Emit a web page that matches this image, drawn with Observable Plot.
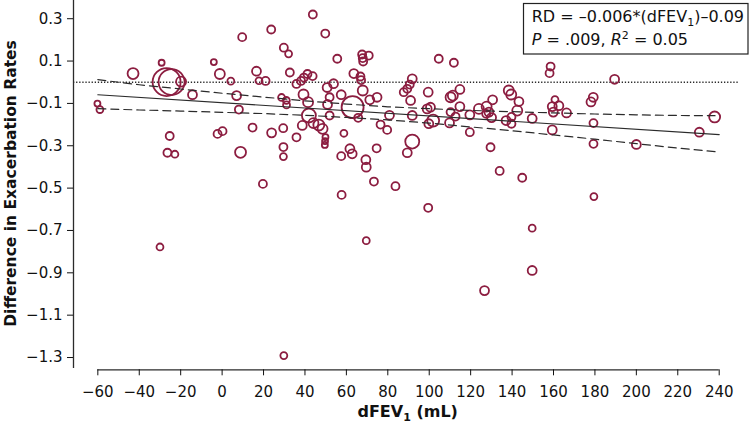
<!DOCTYPE html>
<html><head><meta charset="utf-8">
<script src="https://cdn.jsdelivr.net/npm/d3@7"></script>
<script src="https://cdn.jsdelivr.net/npm/@observablehq/plot@0.6"></script>
<style>
html,body{margin:0;padding:0;background:#fff;}
#chart{position:relative;width:751px;height:432px;}
</style></head><body><div id="chart"></div>
<script>
// Scatter values: dFEV1 (mL) vs difference in exacerbation rates
const dFEV1 = [
-60.2, -59.0, -43.0, -29.2, -26.8, -24.4, -19.8, -14.3, -4.0, -1.1,
4.2, 7.0, 8.1, 9.7, -25.3, -26.4, -22.8, -2.2, 0.2, 8.9,
14.7, -30.0, 19.7, 23.7, 43.8, 49.8, 29.8, 32.1, 16.6, 17.8,
21.0, 32.7, 35.9, 38.1, 39.5, 41.2, 43.7, 28.7, 31.0, 31.1,
39.3, 41.5, 41.9, 38.7, 44.1, 46.7, 48.5, 50.7, 53.8, 51.9,
50.9, 51.9, 49.9, 49.7, 49.6, 23.9, 29.5, 35.9, 29.6, 29.6,
29.8, 55.6, 57.5, 58.8, 57.5, 61.7, 62.8, 63.0, 57.7, 67.6,
67.9, 68.1, 70.8, 63.6, 66.8, 67.1, 67.9, 71.3, 74.8, 65.7,
76.5, 79.7, 80.8, 91.8, 90.6, 89.4, 87.7, 91.0, 91.8, 91.8,
89.4, 74.6, 69.4, 69.6, 73.3, 83.7, 99.5, 69.6, 99.5, 99.0,
100.6, 101.9, 99.8, 104.6, 111.9, 110.3, 111.4, 114.8, 114.8, 110.3,
112.7, 109.8, 119.6, 119.6, 124.0, 127.7, 128.8, 130.1, 127.5, 130.6,
129.6, 138.4, 139.6, 143.3, 142.5, 137.1, 139.7, 139.7, 149.7, 158.6,
158.1, 160.7, 159.4, 159.9, 162.6, 166.3, 159.4, 178.1, 179.2, 179.3,
179.3, 189.5, 200.0, 230.4, 237.8, 134.0, 144.9, 179.5, 149.7, 149.7,
126.7];
const rateDiff = [
-0.101, -0.129, 0.041, 0.092, 0.001, 0.001, 0.003, -0.059, 0.095, 0.039,
0.005, -0.063, -0.129, 0.213, -0.254, -0.333, -0.340, -0.244, -0.231, -0.331,
-0.214, -0.778, -0.480, 0.249, 0.320, 0.230, 0.163, 0.134, 0.052, 0.007,
0.006, 0.046, -0.008, 0.006, 0.022, 0.039, 0.029, -0.072, -0.086, -0.107,
-0.058, -0.094, -0.157, -0.204, -0.193, -0.202, -0.220, -0.025, -0.007, -0.071,
-0.105, -0.157, -0.259, -0.278, -0.296, -0.239, -0.217, -0.260, -0.306, -0.351,
-1.291, 0.111, -0.059, -0.241, -0.349, -0.314, -0.338, -0.118, -0.532, 0.131,
0.114, 0.098, 0.126, 0.041, 0.027, 0.010, -0.039, -0.083, -0.071, -0.168,
-0.200, -0.225, -0.156, 0.016, -0.011, -0.031, -0.047, -0.086, -0.157, -0.280,
-0.333, -0.312, -0.366, -0.401, -0.469, -0.491, -0.593, -0.748, -0.047, -0.126,
-0.118, -0.181, -0.196, 0.111, 0.092, -0.071, -0.063, -0.034, -0.115, -0.141,
-0.162, -0.192, -0.154, -0.236, -0.126, -0.115, -0.141, -0.167, -0.149, -0.083,
-0.307, -0.039, -0.058, -0.091, -0.134, -0.181, -0.164, -0.196, -0.171, 0.074,
0.043, -0.082, -0.115, -0.141, -0.111, -0.145, -0.225, -0.093, -0.071, -0.193,
-0.291, 0.014, -0.294, -0.236, -0.164, -0.419, -0.451, -0.540, -0.689, -0.889,
-0.984];
// study weight (bubble area)
const weight = [
9, 12, 30, 9, 196, 169, 25, 20, 9, 25,
12, 20, 16, 16, 16, 16, 12, 16, 16, 30,
16, 12, 16, 16, 16, 16, 16, 12, 20, 12,
16, 16, 16, 16, 16, 16, 16, 12, 12, 12,
25, 25, 49, 20, 25, 30, 25, 20, 20, 16,
20, 16, 9, 9, 9, 20, 16, 16, 16, 12,
12, 16, 20, 12, 16, 20, 20, 121, 16, 16,
16, 16, 16, 20, 16, 16, 25, 20, 20, 16,
16, 16, 20, 20, 16, 16, 16, 20, 20, 49,
20, 16, 20, 20, 16, 16, 16, 12, 20, 20,
20, 36, 20, 16, 16, 25, 25, 20, 20, 16,
16, 20, 20, 16, 25, 25, 20, 20, 16, 20,
16, 25, 25, 20, 25, 20, 16, 16, 20, 16,
16, 12, 20, 20, 20, 20, 20, 20, 20, 16,
16, 20, 20, 20, 30, 16, 16, 12, 12, 20,
20];
// regression line and its confidence band
const fitX = [-60, 240];
const fitY = [-0.059, -0.247];
const bandX = [-60, -40, -20, 0, 20, 40, 60, 80, 100, 120, 140, 160, 180, 200, 220, 238];
const bandUpper = [0.012, -0.012, -0.032, -0.052, -0.070, -0.088, -0.103, -0.116, -0.125, -0.133, -0.139, -0.145, -0.150, -0.154, -0.157, -0.158];
const bandLower = [-0.125, -0.131, -0.136, -0.142, -0.148, -0.156, -0.166, -0.178, -0.193, -0.211, -0.229, -0.249, -0.269, -0.290, -0.311, -0.328];
const zeroLine = [0];
const xTicks = [-60, -40, -20, 0, 20, 40, 60, 80, 100, 120, 140, 160, 180, 200, 220, 240];
const yTicks = [0.3, 0.1, -0.1, -0.3, -0.5, -0.7, -0.9, -1.1, -1.3];

const points = dFEV1.map((x, i) => ({x, y: rateDiff[i], w: weight[i]}));
const fit = fitX.map((x, i) => ({x, y: fitY[i]}));
const upper = bandX.map((x, i) => ({x, y: bandUpper[i]}));
const lower = bandX.map((x, i) => ({x, y: bandLower[i]}));

const xLo = -71.75, yLo = -1.358, yHi = 0.386;
const ink = "#2b2b2b";
const plot = Plot.plot({
  width: 751, height: 432,
  marginLeft: 73, marginRight: 32.3, marginTop: 0, marginBottom: 62.7,
  style: {fontFamily: "'DejaVu Sans', sans-serif", fontSize: "15px", color: "#111", background: "#fff", overflow: "visible"},
  x: {domain: [xLo, 240]},
  y: {domain: [yLo, yHi]},
  r: {type: "sqrt", domain: [0, 196], range: [0, 14]},
  marks: [
    Plot.ruleX([xLo], {y1: -1.352, y2: yHi, stroke: ink, strokeWidth: 1.3}),
    Plot.ruleY([yLo], {x1: xTicks[0], x2: xTicks[xTicks.length - 1], stroke: ink, strokeWidth: 1.3}),
    Plot.axisY({ticks: yTicks, tickSize: 6, tickPadding: 5, tickFormat: d3.format(".1f"), label: null}),
    Plot.axisX({ticks: xTicks, tickSize: 6, tickPadding: 10.5, tickFormat: d3.format("d"), label: null}),
    Plot.ruleY(zeroLine, {x1: xLo, x2: 249.5, stroke: ink, strokeWidth: 1.3, strokeDasharray: "1.3,1.8"}),
    Plot.dot(points, {x: "x", y: "y", r: "w", stroke: "#8c1d40", strokeWidth: 1.8, fill: "none"}),
    Plot.line(fit, {x: "x", y: "y", stroke: ink, strokeWidth: 1.2}),
    Plot.line(upper, {x: "x", y: "y", stroke: ink, strokeWidth: 1.2, strokeDasharray: "8,5"}),
    Plot.line(lower, {x: "x", y: "y", stroke: ink, strokeWidth: 1.2, strokeDasharray: "8,5"})
  ]
});
document.getElementById("chart").appendChild(plot);

const svg = d3.select(plot);
// axis titles
svg.append("text")
  .attr("transform", "translate(15.5,183.5) rotate(-90)")
  .attr("text-anchor", "middle")
  .attr("font-weight", "bold").attr("font-size", "15.5px").attr("fill", "#111")
  .text("Difference in Exacerbation Rates");
const xt = svg.append("text")
  .attr("x", 407.7).attr("y", 417.3)
  .attr("text-anchor", "middle")
  .attr("font-weight", "bold").attr("font-size", "16px").attr("fill", "#111");
xt.append("tspan").text("dFEV");
xt.append("tspan").attr("font-size", "11px").attr("dy", 4).text("1");
xt.append("tspan").attr("dy", -4).text(" (mL)");

// annotation box
const g = svg.append("g").attr("font-size", "16px").attr("fill", "#111").attr("text-anchor", "start");
g.append("rect").attr("x", 523.5).attr("y", 3.5).attr("width", 224.5).attr("height", 50.5)
  .attr("fill", "#fff").attr("stroke", "#222").attr("stroke-width", 1.2);
const l1 = g.append("text").attr("x", 531.7).attr("y", 21.7).attr("text-anchor", "start");
l1.append("tspan").text("RD = \u20130.006*(dFEV");
l1.append("tspan").attr("font-size", "11px").attr("dy", 4).text("1");
l1.append("tspan").attr("dy", -4).text(")\u20130.09");
const l2 = g.append("text").attr("x", 531.7).attr("y", 45).attr("text-anchor", "start");
l2.append("tspan").attr("font-style", "italic").text("P");
l2.append("tspan").text(" = .009, ");
l2.append("tspan").attr("font-style", "italic").text("R");
l2.append("tspan").attr("font-size", "11px").attr("dy", -6).text("2");
l2.append("tspan").attr("dy", 6).text(" = 0.05");
</script>
</body></html>
